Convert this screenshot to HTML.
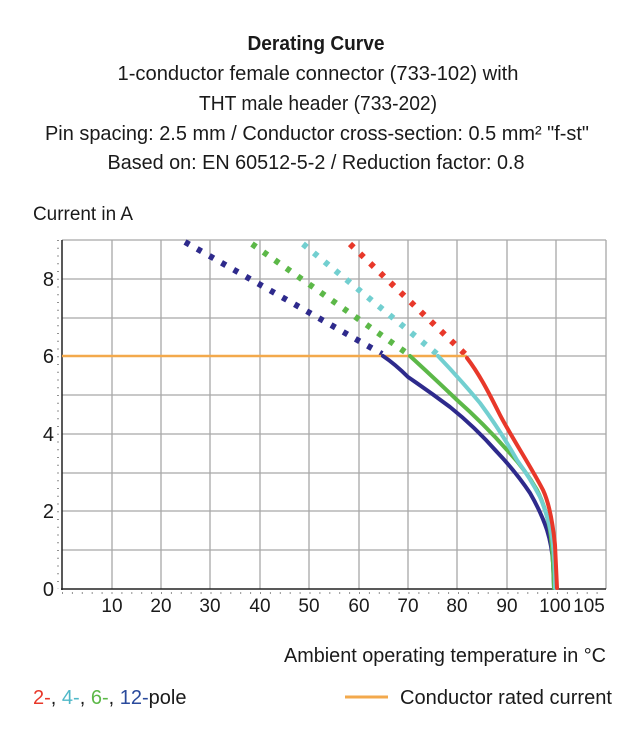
<!DOCTYPE html>
<html><head><style>
body{margin:0;background:#fff;}
svg text{font-family:"Liberation Sans Narrow","Liberation Sans",sans-serif;fill:#1a1a1a;}
</style></head><body>
<svg width="635" height="745" viewBox="0 0 635 745" xmlns="http://www.w3.org/2000/svg">
<g font-size="20" text-anchor="middle">
<text x="316" y="50" font-weight="bold" textLength="137" lengthAdjust="spacingAndGlyphs">Derating Curve</text>
<text x="318" y="80" textLength="401" lengthAdjust="spacingAndGlyphs">1-conductor female connector (733-102) with</text>
<text x="318" y="110" textLength="238" lengthAdjust="spacingAndGlyphs">THT male header (733-202)</text>
<text x="317" y="140" textLength="544" lengthAdjust="spacingAndGlyphs">Pin spacing: 2.5 mm / Conductor cross-section: 0.5 mm² "f-st"</text>
<text x="316" y="169" textLength="417" lengthAdjust="spacingAndGlyphs">Based on: EN 60512-5-2 / Reduction factor: 0.8</text>
</g>
<text x="33" y="220" font-size="19" textLength="100" lengthAdjust="spacingAndGlyphs">Current in A</text>
<g stroke="#a8a8a8" stroke-width="1.3">
<line x1="62" y1="240" x2="606" y2="240"/><line x1="62" y1="279" x2="606" y2="279"/><line x1="62" y1="318" x2="606" y2="318"/><line x1="62" y1="356" x2="606" y2="356"/><line x1="62" y1="395" x2="606" y2="395"/><line x1="62" y1="434" x2="606" y2="434"/><line x1="62" y1="473" x2="606" y2="473"/><line x1="62" y1="511" x2="606" y2="511"/><line x1="62" y1="550" x2="606" y2="550"/>
<line x1="112" y1="240" x2="112" y2="589"/><line x1="161" y1="240" x2="161" y2="589"/><line x1="210" y1="240" x2="210" y2="589"/><line x1="260" y1="240" x2="260" y2="589"/><line x1="309" y1="240" x2="309" y2="589"/><line x1="359" y1="240" x2="359" y2="589"/><line x1="408" y1="240" x2="408" y2="589"/><line x1="457" y1="240" x2="457" y2="589"/><line x1="507" y1="240" x2="507" y2="589"/><line x1="556" y1="240" x2="556" y2="589"/><line x1="606" y1="240" x2="606" y2="589"/>
</g>
<g stroke="#222" stroke-width="1.5">
<line x1="62" y1="240" x2="62" y2="590"/><line x1="61" y1="589" x2="606" y2="589"/>
</g>
<g stroke="#222" stroke-width="1" stroke-dasharray="1 6.75">
<line x1="58" y1="240" x2="58" y2="589"/>
</g>
<g stroke="#222" stroke-width="1" stroke-dasharray="1 8.9">
<line x1="62" y1="593" x2="606" y2="593"/>
</g>
<g font-size="20" text-anchor="end">
<text x="54" y="286">8</text><text x="54" y="363">6</text><text x="54" y="441">4</text><text x="54" y="518">2</text><text x="54" y="596">0</text>
</g>
<g font-size="19" text-anchor="middle">
<text x="112" y="612">10</text><text x="161" y="612">20</text><text x="210" y="612">30</text><text x="260" y="612">40</text><text x="309" y="612">50</text><text x="359" y="612">60</text><text x="408" y="612">70</text><text x="457" y="612">80</text><text x="507" y="612">90</text><text x="555" y="612">100</text><text x="589" y="612">105</text>
</g>
<g stroke-width="6" stroke-dasharray="5 9" fill="none">
<line x1="185" y1="242" x2="382" y2="354" stroke="#2e2a8c"/>
<line x1="252" y1="244" x2="408" y2="354" stroke="#5cb848"/>
<line x1="303" y1="244" x2="437" y2="354" stroke="#72cfd0"/>
<line x1="350" y1="244" x2="465" y2="354" stroke="#e8382a"/>
</g>
<line x1="62" y1="356" x2="467" y2="356" stroke="#f3a94c" stroke-width="2.5"/>
<g fill="none" stroke-width="4" stroke-linecap="round" stroke-linejoin="round">
<path d="M383,356 Q395,364 408,377 Q430,392 450,407 Q475,427 497,452 Q516,472 530,493 Q541,512 547,530 Q552,546 553,563 L554,588" stroke="#2e2a8c"/>
<path d="M410,356 Q434,378 457,400 Q484,424 507,450 Q525,469 537,490 Q546,508 550,530 Q553,550 554,588" stroke="#5cb848"/>
<path d="M438,356 Q460,379 480,403 Q500,430 517,460 Q530,478 540,497 Q548,516 552,537 Q555,560 555,588" stroke="#72cfd0"/>
<path d="M467,358 C480,375 490,395 500,415 C512,438 530,465 543,490 C550,505 553,525 555,545 L557,588" stroke="#e8382a"/>
</g>
<text x="606" y="662" font-size="20" text-anchor="end" textLength="322" lengthAdjust="spacingAndGlyphs">Ambient operating temperature in °C</text>
<text x="33" y="704" font-size="20"><tspan fill="#e8382a">2-</tspan>, <tspan fill="#4fb8c8">4-</tspan>, <tspan fill="#5cb848">6-</tspan>, <tspan fill="#2a4a9c">12-</tspan>pole</text>
<line x1="345" y1="697" x2="388" y2="697" stroke="#f3a94c" stroke-width="3"/>
<text x="400" y="704" font-size="20" textLength="212" lengthAdjust="spacingAndGlyphs">Conductor rated current</text>
</svg>
</body></html>
